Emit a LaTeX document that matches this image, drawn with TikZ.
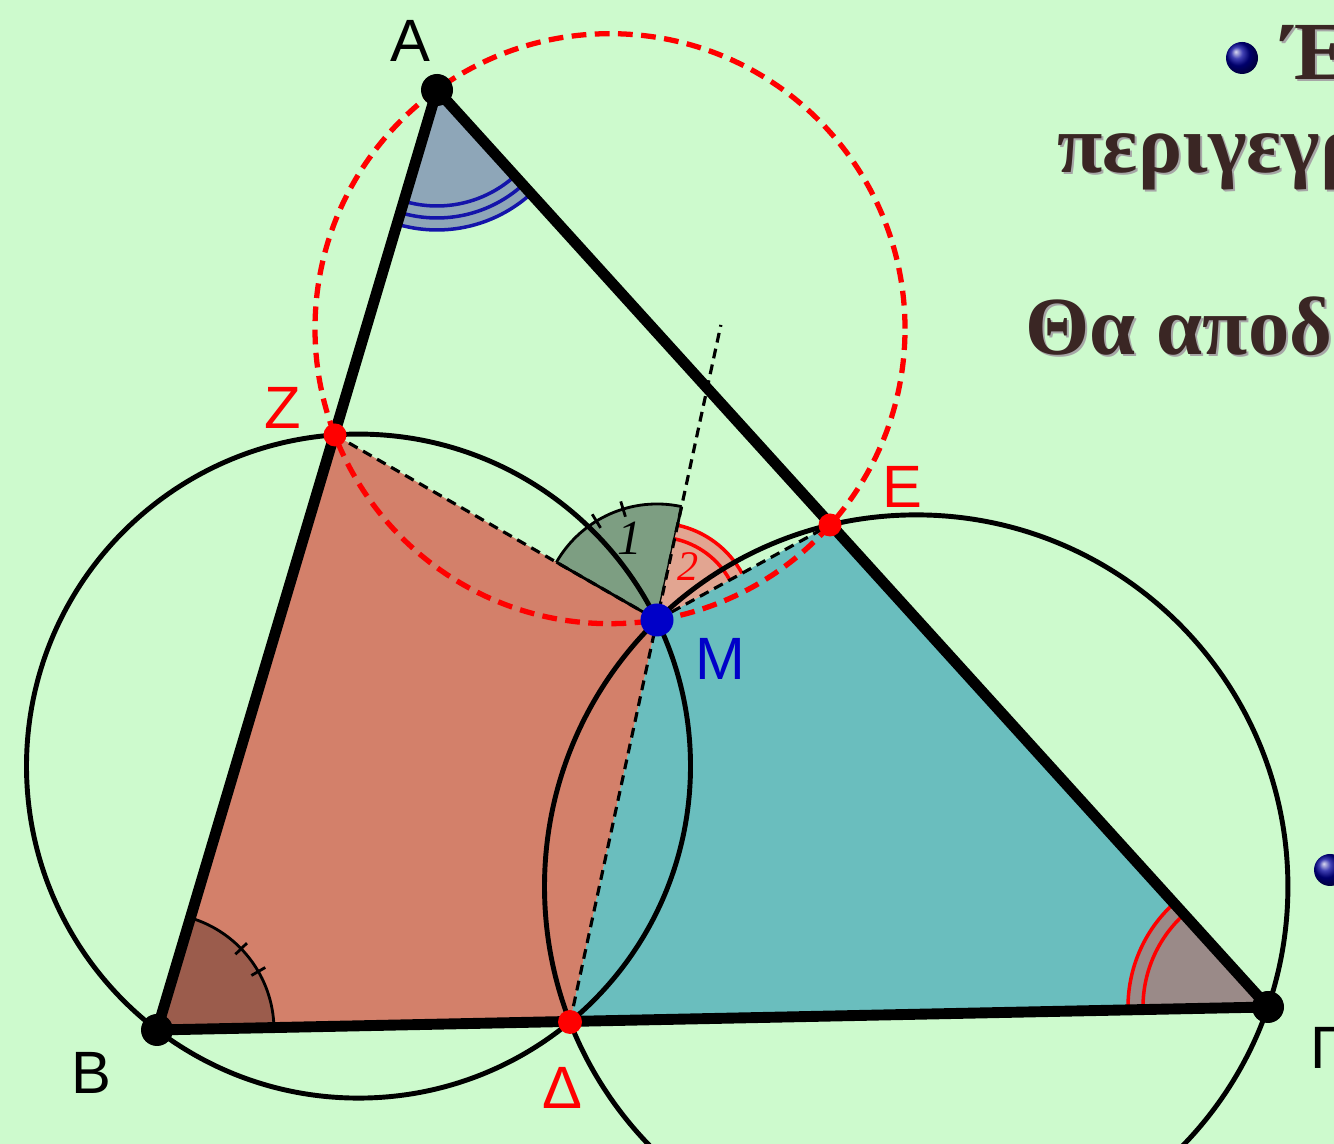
\documentclass[tikz,border=0pt]{standalone}
\usepackage{fontspec}
\setmainfont{Liberation Serif}
\setsansfont{Liberation Sans}
\usetikzlibrary{calc,angles}
\definecolor{bg}{RGB}{205,250,205}
\definecolor{salmon}{RGB}{211,128,106}
\definecolor{tealf}{RGB}{106,190,190}
\definecolor{wedgeB}{RGB}{155,92,76}
\definecolor{wedgeA}{RGB}{142,166,184}
\definecolor{wedgeG}{RGB}{154,138,136}
\definecolor{wedgeone}{RGB}{125,158,130}
\definecolor{wedgetwo}{RGB}{226,165,145}
\definecolor{ptblue}{RGB}{0,0,200}
\definecolor{arcblue}{RGB}{20,20,170}
\definecolor{txtbrown}{RGB}{58,38,36}
\tikzset{
  side/.style={line width=3.1pt, line cap=round, line join=round},
  circ/.style={line width=1.4pt},
  reddash/.style={line width=1.5pt, red, dash pattern=on 4.2pt off 2.4pt},
  blackdash/.style={line width=0.9pt, dash pattern=on 2.8pt off 1.8pt},
  lbl/.style={font=\sffamily\fontsize{17}{17}\selectfont, inner sep=0pt},
  greek/.style={font=\bfseries\fontsize{23.5}{24}\selectfont, text=txtbrown, inner sep=0pt, anchor=base west},
  greekshadow/.style={greek, text=black!35},
  tick/.style={line width=0.8pt},
}
\begin{document}
\begin{tikzpicture}
\useasboundingbox (0,0) rectangle (13.34,11.44);
\fill[bg] (0,0) rectangle (13.34,11.44);
\clip (0,0) rectangle (13.34,11.44);
% points
\coordinate (A) at (4.37,10.54);
\coordinate (B) at (1.57,1.14);
\coordinate (G) at (12.68,1.37);
\coordinate (Z) at (3.35,7.09);
\coordinate (E) at (8.30,6.19);
\coordinate (D) at (5.70,1.22);
\coordinate (M) at (6.57,5.24);
\coordinate (X) at ($(D)!1.734!(M)$);
\coordinate (O1) at (6.10,8.153);
\coordinate (O2) at (3.585,3.779);
\coordinate (O3) at (9.162,2.574);
% filled regions
\fill[salmon] (B) -- (Z) -- (M) -- (D) -- cycle;
\fill[tealf] (D) -- (M) -- (E) -- (G) -- cycle;
% angle at B
\pic[fill=wedgeB, draw=black, tick, angle radius=1.17cm]{angle=G--B--A};
\draw[tick] ($(B)+(30:1.09)$) -- ($(B)+(30:1.25)$);
\draw[tick] ($(B)+(44:1.09)$) -- ($(B)+(44:1.25)$);
% angle at A
\pic[fill=wedgeA, angle radius=1.40cm]{angle=B--A--G};
\pic[draw=arcblue, line width=1pt, angle radius=1.40cm]{angle=B--A--G};
\pic[draw=arcblue, line width=1pt, angle radius=1.28cm]{angle=B--A--G};
\pic[draw=arcblue, line width=1pt, angle radius=1.16cm]{angle=B--A--G};
% angle at Gamma
\pic[fill=wedgeG, angle radius=1.40cm]{angle=A--G--B};
\pic[draw=red, line width=1pt, angle radius=1.40cm]{angle=A--G--B};
\pic[draw=red, line width=1pt, angle radius=1.25cm]{angle=A--G--B};
% angle 1 at M
\pic[fill=wedgeone, draw=black, tick, angle radius=1.16cm]{angle=X--M--Z};
\draw[tick] (M) -- ($(M)!1.16cm!(X)$);
\draw[tick] (M) -- ($(M)!1.16cm!(Z)$);
\draw[tick] ($(M)+(107:1.08)$) -- ($(M)+(107:1.24)$);
\draw[tick] ($(M)+(121.5:1.08)$) -- ($(M)+(121.5:1.24)$);
% angle 2 at M
\pic[fill=wedgetwo, angle radius=0.97cm]{angle=E--M--X};
\pic[draw=red, line width=1pt, angle radius=0.97cm]{angle=E--M--X};
\pic[draw=red, line width=1pt, angle radius=0.83cm]{angle=E--M--X};
\node[inner sep=0pt, font=\itshape\fontsize{14}{14}\selectfont] (n1) at ($(M)+(-0.27,0.82)$) {1};
\node[inner sep=0pt, text=red, font=\itshape\fontsize{12}{12}\selectfont] (n2) at ($(M)+(0.31,0.53)$) {2};
% circles
\draw[circ] (O2) circle (3.32);
\draw[circ] (O3) circle (3.717);
% sides
\draw[side] (A) -- (B) -- (G) -- cycle;
% dashed segments
\draw[blackdash] (Z) -- (M) -- (E);
\draw[blackdash] (D) -- (X);
% red dashed circle
\draw[reddash] (O1) circle (2.95);
% points
\fill (A) circle (0.16);
\fill (B) circle (0.16);
\fill (G) circle (0.16);
\fill[red] (Z) circle (0.115);
\fill[red] (E) circle (0.115);
\fill[red] (D) circle (0.12);
\fill[ptblue] (M) circle (0.165);
% labels
\node[lbl] (lA) at (4.10,11.03) {A};
\node[lbl] (lB) at (0.91,0.71) {B};
\node[lbl, anchor=west] (lG) at (13.10,0.965) {Γ};
\node[lbl, text=red] (lZ) at (2.83,7.36) {Z};
\node[lbl, text=red] (lE) at (9.02,6.57) {E};
\node[lbl, text=red] (lD) at (5.62,0.56) {Δ};
\node[lbl, text=ptblue] (lM) at (7.20,4.85) {M};
% right-hand text (cut by the edge)
\shade[ball color=blue!60!black] (12.42,10.86) circle (0.16);
\shade[ball color=blue!60!black] (13.30,2.74) circle (0.16);
\node[greekshadow] at (12.85,10.62) {Έ};
\node[greek] (t1) at (12.83,10.64) {Έ};
\node[greekshadow] at (10.59,9.69) {περιγεγρ};
\node[greek] (t2) at (10.57,9.71) {περιγεγρ};
\node[greekshadow] at (10.27,7.87) {Θα αποδε};
\node[greek] (t3) at (10.25,7.89) {Θα αποδε};
\end{tikzpicture}
\end{document}
